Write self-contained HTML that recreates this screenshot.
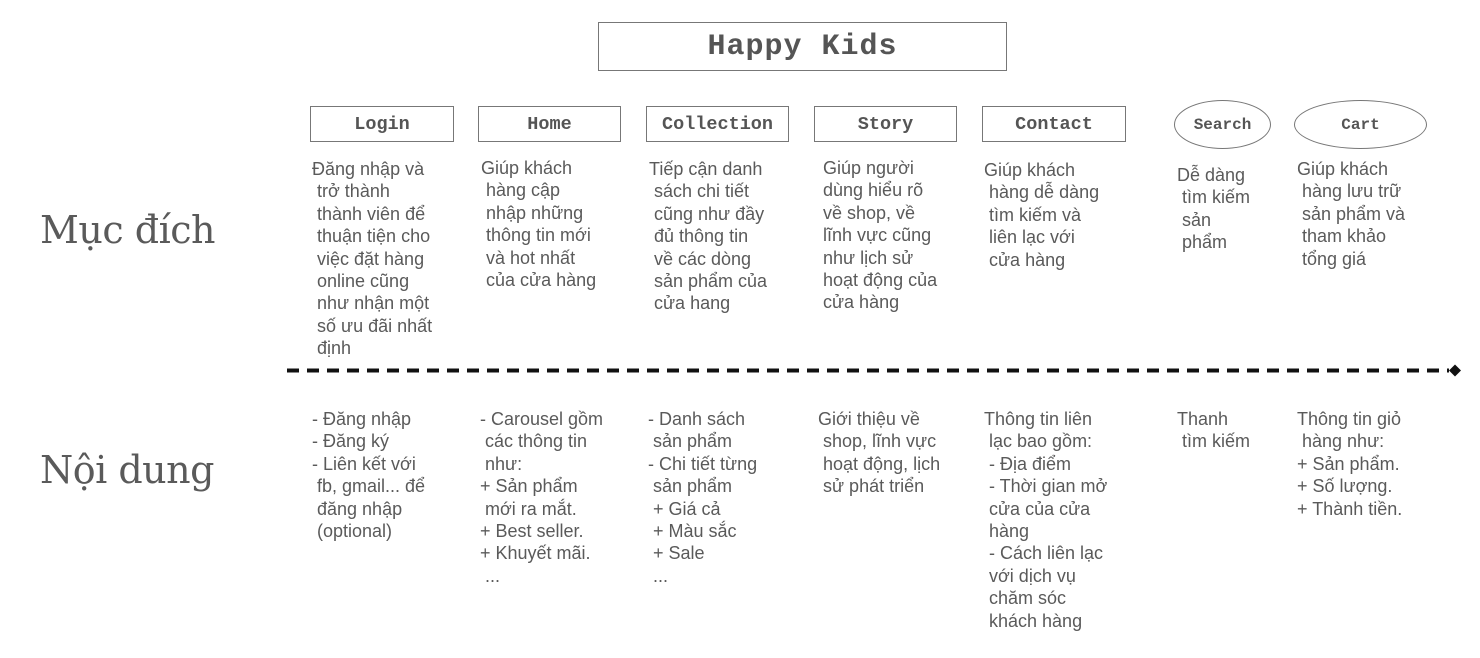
<!DOCTYPE html>
<html><head><meta charset="utf-8">
<style>
body{margin:0;width:1480px;height:658px;background:#fff;position:relative;overflow:hidden;font-family:"Liberation Sans",sans-serif;color:#5a5a5a}
.b{position:absolute;border:1.5px solid #777;box-sizing:border-box;background:#fff;font-family:"Liberation Mono",monospace;font-weight:bold;font-size:18.5px;color:#555;display:flex;align-items:center;justify-content:center}
.e{border-radius:50%;font-size:16px}
.t{position:absolute;font-size:18px;line-height:22.4px;white-space:pre;color:#5a5a5a}
.big{position:absolute;font-family:"DejaVu Serif","Liberation Serif",serif;font-size:38px;color:#5a5a5a;letter-spacing:-0.5px}
</style></head><body>
<div class="b" style="left:598px;top:22px;width:409px;height:49px;font-size:30px;letter-spacing:1px">Happy Kids</div>
<div class="b" style="left:310px;top:106px;width:144px;height:36px">Login</div>
<div class="b" style="left:478px;top:106px;width:143px;height:36px">Home</div>
<div class="b" style="left:646px;top:106px;width:143px;height:36px">Collection</div>
<div class="b" style="left:814px;top:106px;width:143px;height:36px">Story</div>
<div class="b" style="left:982px;top:106px;width:144px;height:36px">Contact</div>
<div class="b e" style="left:1174px;top:100px;width:97px;height:49px">Search</div>
<div class="b e" style="left:1294px;top:100px;width:133px;height:49px">Cart</div>

<div class="big" style="left:40px;top:208px">Mục đích</div>
<div class="big" style="left:40px;top:448px">Nội dung</div>

<div class="t" style="left:312px;top:158px">Đăng nhập và
 trở thành
 thành viên để
 thuận tiện cho
 việc đặt hàng
 online cũng
 như nhận một
 số ưu đãi nhất
 định</div>
<div class="t" style="left:481px;top:157px">Giúp khách
 hàng cập
 nhập những
 thông tin mới
 và hot nhất
 của cửa hàng</div>
<div class="t" style="left:649px;top:158px">Tiếp cận danh
 sách chi tiết
 cũng như đầy
 đủ thông tin
 về các dòng
 sản phẩm của
 cửa hang</div>
<div class="t" style="left:823px;top:157px">Giúp người
dùng hiểu rõ
về shop, về
lĩnh vực cũng
như lịch sử
hoạt động của
cửa hàng</div>
<div class="t" style="left:984px;top:159px">Giúp khách
 hàng dễ dàng
 tìm kiếm và
 liên lạc với
 cửa hàng</div>
<div class="t" style="left:1177px;top:164px">Dễ dàng
 tìm kiếm
 sản
 phẩm</div>
<div class="t" style="left:1297px;top:158px">Giúp khách
 hàng lưu trữ
 sản phẩm và
 tham khảo
 tổng giá</div>

<svg style="position:absolute;left:0;top:0" width="1480" height="658">
<line x1="287" y1="370.5" x2="1449" y2="370.5" stroke="#111" stroke-width="4" stroke-dasharray="12 8"/>
<polygon points="1449,370.5 1455,364.5 1461,370.5 1455,376.5" fill="#111"/>
</svg>

<div class="t" style="left:312px;top:408px">- Đăng nhập
- Đăng ký
- Liên kết với
 fb, gmail... để
 đăng nhập
 (optional)</div>
<div class="t" style="left:480px;top:408px">- Carousel gồm
 các thông tin
 như:
+ Sản phẩm
 mới ra mắt.
+ Best seller.
+ Khuyết mãi.
 ...</div>
<div class="t" style="left:648px;top:408px">- Danh sách
 sản phẩm
- Chi tiết từng
 sản phẩm
 + Giá cả
 + Màu sắc
 + Sale
 ...</div>
<div class="t" style="left:818px;top:408px">Giới thiệu về
 shop, lĩnh vực
 hoạt động, lịch
 sử phát triển</div>
<div class="t" style="left:984px;top:408px">Thông tin liên
 lạc bao gồm:
 - Địa điểm
 - Thời gian mở
 cửa của cửa
 hàng
 - Cách liên lạc
 với dịch vụ
 chăm sóc
 khách hàng</div>
<div class="t" style="left:1177px;top:408px">Thanh
 tìm kiếm</div>
<div class="t" style="left:1297px;top:408px">Thông tin giỏ
 hàng như:
+ Sản phẩm.
+ Số lượng.
+ Thành tiền.</div>
</body></html>
